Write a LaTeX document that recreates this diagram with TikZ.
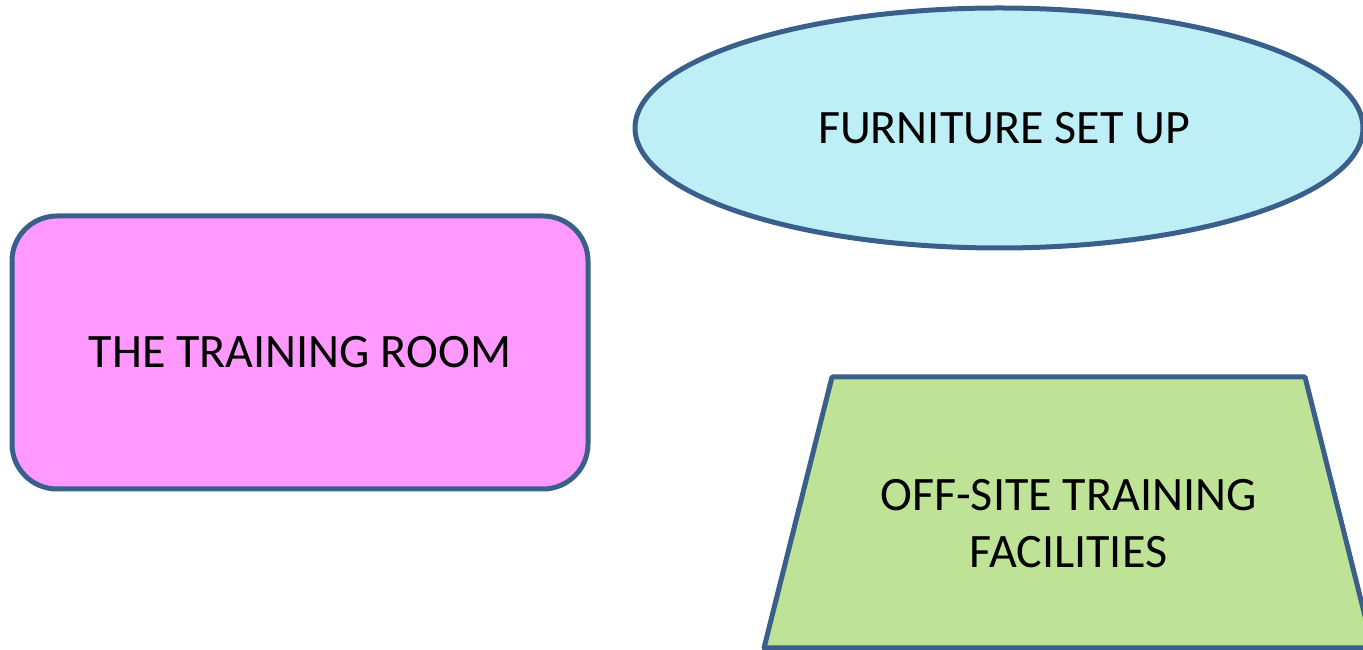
\documentclass[tikz,border=0pt]{standalone}
\usepackage{fontspec}
\setmainfont{Carlito}
\usetikzlibrary{shapes.geometric}

\definecolor{rimblue}{HTML}{3A5F8B}
\definecolor{roompink}{HTML}{FF99FF}
\definecolor{setupcyan}{HTML}{BEEFF6}
\definecolor{offsitegreen}{HTML}{BFE396}

\tikzset{
  topictext/.style={text=black, font=\fontsize{48}{57}\selectfont,
    align=center, inner sep=0pt},
  rim/.style={draw=rimblue, line width=5pt, line join=round},
  topic/.style={topictext, rim},
  roombox/.style={topic, fill=roompink, rectangle, rounded corners=45pt,
    minimum width=576pt, minimum height=273pt},
  setupoval/.style={topic, fill=setupcyan, ellipse,
    minimum width=728pt, minimum height=240pt}
}

\begin{document}
\begin{tikzpicture}[x=1pt, y=1pt]
  % frame of the slide
  \clip (0,0) rectangle (1363,650);
  \useasboundingbox (0,0) rectangle (1363,650);

  % the three topics
  \node[roombox] (room) at (300,297.5) {THE TRAINING ROOM};
  \node[setupoval] (setup) at (999,522) {\hspace*{10pt}FURNITURE SET UP};

  % trapezium drawn by hand, text on top
  \filldraw[rim, fill=offsitegreen]
    (832,273) -- (1305,273) -- (1373,2) -- (764,2) -- cycle;
  \node[topictext] (offsite) at (1068.5,126.5)
    {OFF-SITE TRAINING\\FACILITIES};
\end{tikzpicture}
\end{document}
